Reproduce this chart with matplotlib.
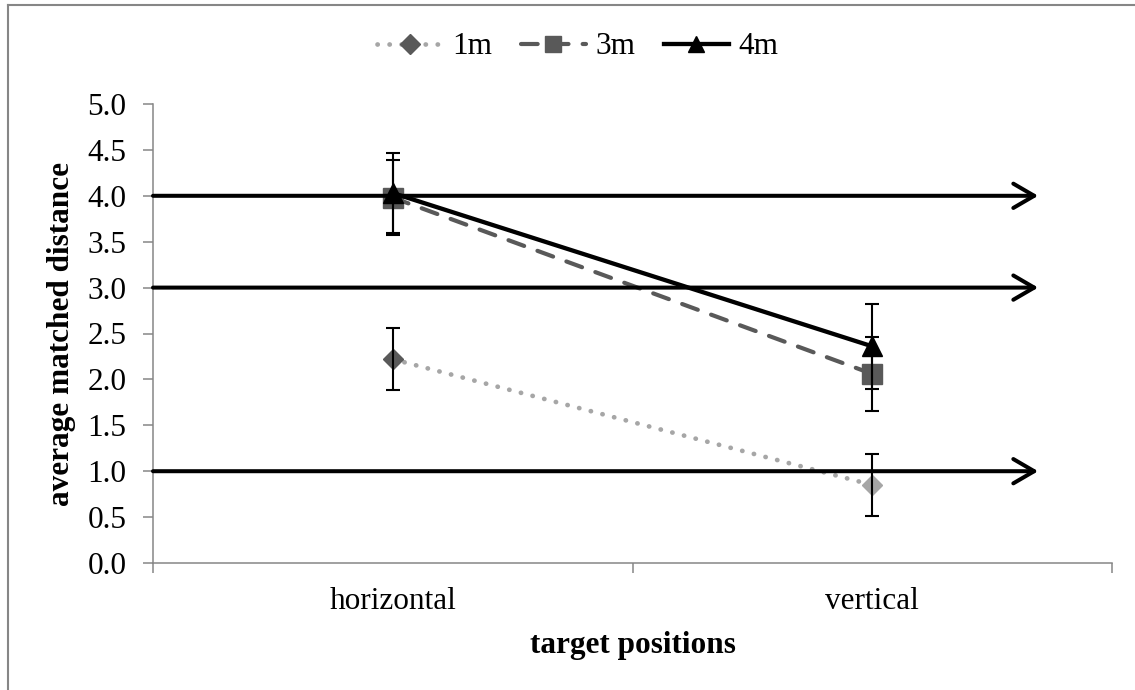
import matplotlib
matplotlib.use('Agg')
import matplotlib.pyplot as plt
from matplotlib.lines import Line2D

plt.rcParams['font.family'] = ['Liberation Serif', 'DejaVu Serif']

# data
positions = ['horizontal', 'vertical']
m1 = [2.22, 0.85]
m1_err = [0.34, 0.34]
m3 = [3.98, 2.06]
m3_err = [0.41, 0.40]
m4 = [4.03, 2.36]
m4_err = [0.44, 0.46]
ref_dist = [1.0, 3.0, 4.0]
ref_end = 1.846

x = [0.5, 1.5]
FS = 22.5

fig = plt.figure(figsize=(11.35, 6.9), dpi=100)
ax = fig.add_axes([153/1135, 1-563/690, (1112-153)/1135, (563-104)/690])

GRAY = '#868686'
DARK = '#595959'
LIGHT = '#A6A6A6'
DOTS = (0, (0.05, 2.5))
DASH = (0, (4.0, 3.4))
eb = dict(fmt='none', ecolor='black', elinewidth=1.5, capsize=4.8, capthick=1.5, zorder=4)

# 1m
ax.plot(x, m1, color=LIGHT, linestyle=DOTS, linewidth=3.4, dash_capstyle='round', zorder=2)
ax.plot(x[:1], m1[:1], 'D', color=DARK, markersize=10, zorder=3)
ax.plot(x[1:], m1[1:], 'D', color=LIGHT, markersize=10, zorder=3)
ax.errorbar(x, m1, yerr=m1_err, **eb)

# 3m
ax.plot(x, m3, color=DARK, linestyle=DASH, linewidth=3, dash_capstyle='round',
        marker='s', markersize=14, zorder=2)
ax.errorbar(x, m3, yerr=m3_err, **eb)

# 4m
ax.plot(x, m4, color='black', linewidth=3.1, marker='^', markersize=14, zorder=3)
ax.errorbar(x, m4, yerr=m4_err, **eb)

# reference arrows
for d in ref_dist:
    ax.annotate('', xy=(ref_end, d), xytext=(0, d),
                arrowprops=dict(arrowstyle='->,head_length=0.6,head_width=0.35', color='black',
                                lw=2.9, mutation_scale=25, shrinkA=0, shrinkB=0,
                                capstyle='round', joinstyle='round'),
                zorder=5)

ax.set_xlim(0, 2)
ax.set_ylim(0, 5)
ax.set_yticks([i * 0.5 for i in range(11)])
ax.set_yticklabels([f'{i * 0.5:.1f}' for i in range(11)], fontsize=FS)
ax.set_xticks(x)
ax.set_xticklabels(positions, fontsize=FS)
ax.set_xticks([0, 1, 2], minor=True)
ax.tick_params(axis='x', which='major', length=0, pad=17)
ax.tick_params(axis='x', which='minor', length=7, color=GRAY, width=1.1)
ax.tick_params(axis='y', length=7, color=GRAY, width=1.1, pad=12)
for s in ['top', 'right']:
    ax.spines[s].set_visible(False)
for s in ['left', 'bottom']:
    ax.spines[s].set_color(GRAY)
    ax.spines[s].set_linewidth(1.1)

ax.set_ylabel('average matched distance', fontsize=FS, fontweight='bold', labelpad=8)
ax.set_xlabel('target positions', fontsize=FS, fontweight='bold', labelpad=11)

handles = [
    Line2D([], [], color=LIGHT, linestyle=DOTS, linewidth=3.4, dash_capstyle='round',
           marker='D', markersize=10, markerfacecolor=DARK, markeredgecolor=DARK),
    Line2D([], [], color=DARK, linestyle=DASH, linewidth=3, dash_capstyle='round',
           marker='s', markersize=11),
    Line2D([], [], color='black', linewidth=3.1, marker='^', markersize=11),
]
fig.legend(handles, ['1m', '3m', '4m'], loc='center', bbox_to_anchor=(578/1135, 1-47/690),
           ncol=3, frameon=False, fontsize=FS, handlelength=2.1, handletextpad=0.3,
           columnspacing=0.9)

# outer border (top and left visible)
fig.add_artist(Line2D([8/1135, 1], [1-5/690, 1-5/690], color=GRAY, linewidth=1.5, transform=fig.transFigure))
fig.add_artist(Line2D([8/1135, 8/1135], [0, 1-5/690], color=GRAY, linewidth=1.5, transform=fig.transFigure))

fig.savefig('out.png', dpi=100)
